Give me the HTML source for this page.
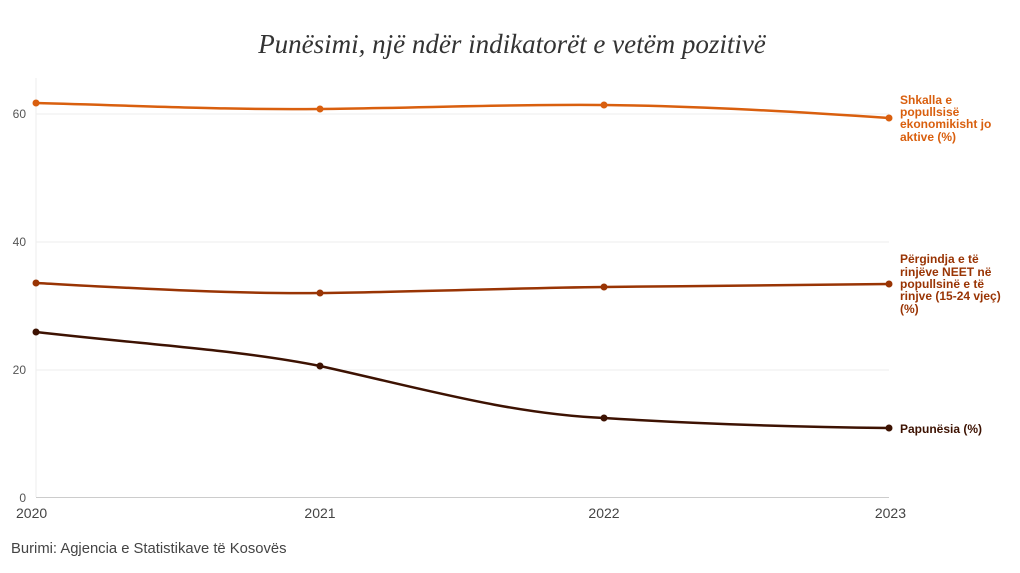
<!DOCTYPE html>
<html><head><meta charset="utf-8"><style>
body{margin:0;background:#fff;width:1020px;height:568px;overflow:hidden;font-family:"Liberation Sans",sans-serif}
</style></head><body>
<svg width="1020" height="568" xmlns="http://www.w3.org/2000/svg">
<text x="512" y="53" text-anchor="middle" font-family="Liberation Serif,serif" font-style="italic" font-size="27" fill="#333">Punësimi, një ndër indikatorët e vetëm pozitivë</text>
<g stroke="#eee" stroke-width="1">
<line x1="36" y1="114" x2="889" y2="114"/><line x1="36" y1="242" x2="889" y2="242"/><line x1="36" y1="370" x2="889" y2="370"/>
<line x1="36" y1="78" x2="36" y2="497"/>
</g>
<line x1="36" y1="497.5" x2="889" y2="497.5" stroke="#ccc"/>
<g font-size="12" fill="#555" text-anchor="end">
<text x="26" y="118">60</text><text x="26" y="246">40</text><text x="26" y="374">20</text><text x="26" y="502">0</text>
</g>
<g font-size="14" fill="#444">
<text x="16" y="518">2020</text><text x="320" y="518" text-anchor="middle">2021</text><text x="604" y="518" text-anchor="middle">2022</text><text x="906" y="518" text-anchor="end">2023</text>
</g>
<g fill="none" stroke-width="2.5">
<path d="M36,103 C150,106 230,110 320,109 C420,108 510,104 604,105 C700,106 800,112 889,118" stroke="#d95f0e"/>
<path d="M36,283 C130,288 230,294 320,293 C420,292 510,288 604,287 C700,286 800,285 889,284" stroke="#993404"/>
<path d="M36,332 C150,345 240,350 320,366 C420,388 510,414 604,418 C700,424 800,427 889,428" stroke="#3d1202"/>
</g>
<g fill="#d95f0e"><circle cx="36" cy="103" r="3.5"/><circle cx="320" cy="109" r="3.5"/><circle cx="604" cy="105" r="3.5"/><circle cx="889" cy="118" r="3.5"/></g>
<g fill="#993404"><circle cx="36" cy="283" r="3.5"/><circle cx="320" cy="293" r="3.5"/><circle cx="604" cy="287" r="3.5"/><circle cx="889" cy="284" r="3.5"/></g>
<g fill="#3d1202"><circle cx="36" cy="332" r="3.5"/><circle cx="320" cy="366" r="3.5"/><circle cx="604" cy="418" r="3.5"/><circle cx="889" cy="428" r="3.5"/></g>
<g font-size="12" font-weight="bold">
<g fill="#d95f0e"><text x="900" y="104">Shkalla e</text><text x="900" y="116">popullsisë</text><text x="900" y="128">ekonomikisht jo</text><text x="900" y="141">aktive (%)</text></g>
<g fill="#993404"><text x="900" y="263">Përgindja e të</text><text x="900" y="276">rinjëve NEET në</text><text x="900" y="288">popullsinë e të</text><text x="900" y="300">rinjve (15-24 vjeç)</text><text x="900" y="313">(%)</text></g>
<g fill="#3d1202"><text x="900" y="433">Papunësia (%)</text></g>
</g>
<text x="11" y="553" font-size="14.8" fill="#444">Burimi: Agjencia e Statistikave të Kosovës</text>
</svg>
</body></html>
